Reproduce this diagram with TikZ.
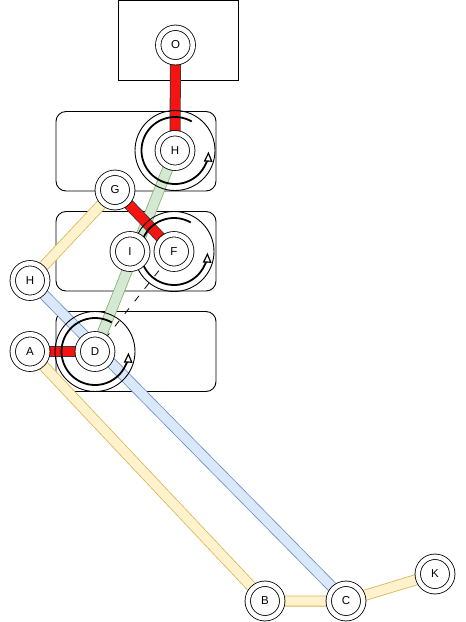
\documentclass[tikz,border=0pt]{standalone}
\usepackage{fontspec}
\setmainfont{Liberation Sans}
\usetikzlibrary{arrows.meta}
\definecolor{yfill}{HTML}{FFF2CC}
\definecolor{ystroke}{HTML}{D6B656}
\definecolor{bfill}{HTML}{DAE8FC}
\definecolor{bstroke}{HTML}{6C8EBF}
\definecolor{gfill}{HTML}{D5E8D4}
\definecolor{gstroke}{HTML}{82B366}
\definecolor{rfill}{RGB}{245,20,15}
\definecolor{rstroke}{HTML}{36393D}
\pgfdeclarelayer{boxes}
\pgfdeclarelayer{bands}
\pgfdeclarelayer{rings}
\pgfsetlayers{boxes,bands,rings,main}
\begin{document}
\begin{tikzpicture}[x=1pt,y=1pt,
  joint/.style={circle, draw=black, line width=0.8pt, double=white, double distance=4.6pt,
    fill=white, minimum size=34.5pt, inner sep=0pt, font=\fontsize{11.5}{13}\selectfont},
  box/.style={draw=black, line width=0.9pt},
  rbox/.style={box, rounded corners=10pt},
  band/.style={line width=0.8pt, double distance=9.4pt},
  yband/.style={band, draw=ystroke, double=yfill},
  bband/.style={band, draw=bstroke, double=bfill},
  gband/.style={band, draw=gstroke, double=gfill},
  rband/.style={band, draw=rstroke, double=rfill},
  link/.style={draw=black, line width=0.8pt, dash pattern=on 7pt off 9pt},
  ring/.style={draw=black, line width=0.9pt},
  turn/.style={draw=black, line width=1.8pt,
    -{Triangle[length=10pt,width=8.5pt,fill=white,line width=1.2pt]}}
]
\useasboundingbox (0,0) rectangle (466,-622);

% joints
\node[joint] (O)  at (175.5,-45)  {O};
\node[joint] (Ht) at (175,-150.5) {H};
\node[joint] (G)  at (115,-190)   {G};
\node[joint] (F)  at (174,-251.5) {F};
\node[joint] (I)  at (130,-251.5) {I};
\node[joint] (Hl) at (30,-280.5)  {H};
\node[joint] (D)  at (95,-351.5)  {D};
\node[joint] (A)  at (30,-351.5)  {A};
\node[joint] (B)  at (265,-601)   {B};
\node[joint] (C)  at (346,-601)   {C};
\node[joint] (K)  at (435,-574)   {K};

\begin{pgfonlayer}{boxes}
  \draw[box]  (118.5,-0.5) rectangle (238.5,-80);
  \draw[rbox] (56,-111.5) rectangle (216,-191);
  \draw[rbox] (56,-211.5) rectangle (216,-291);
  \draw[rbox] (56,-311.5) rectangle (216,-391.5);
\end{pgfonlayer}

\begin{pgfonlayer}{bands}
  \draw[link]  (D.center) -- (F.center);
  \draw[yband] (G.center) -- (Hl.center);
  \draw[yband] (A.center) -- (B.center) -- (C.center) -- (K.center);
  \draw[bband] (Hl.center) -- (C.center);
  \draw[gband] (Ht.center) -- (D.center);
  \draw[rband] (O.center) -- (Ht.center);
  \draw[rband] (G.center) -- (F.center);
  \draw[rband] (A.center) -- (D.center);
\end{pgfonlayer}

\begin{pgfonlayer}{rings}
  \foreach \n in {Ht,F,D} {
    \draw[ring] (\n.center) circle[radius=40pt];
    \draw[turn] ([shift={(60:33.5pt)}]\n.center) arc[start angle=60, end angle=358, radius=33.5pt];
  }
\end{pgfonlayer}
\end{tikzpicture}
\end{document}
